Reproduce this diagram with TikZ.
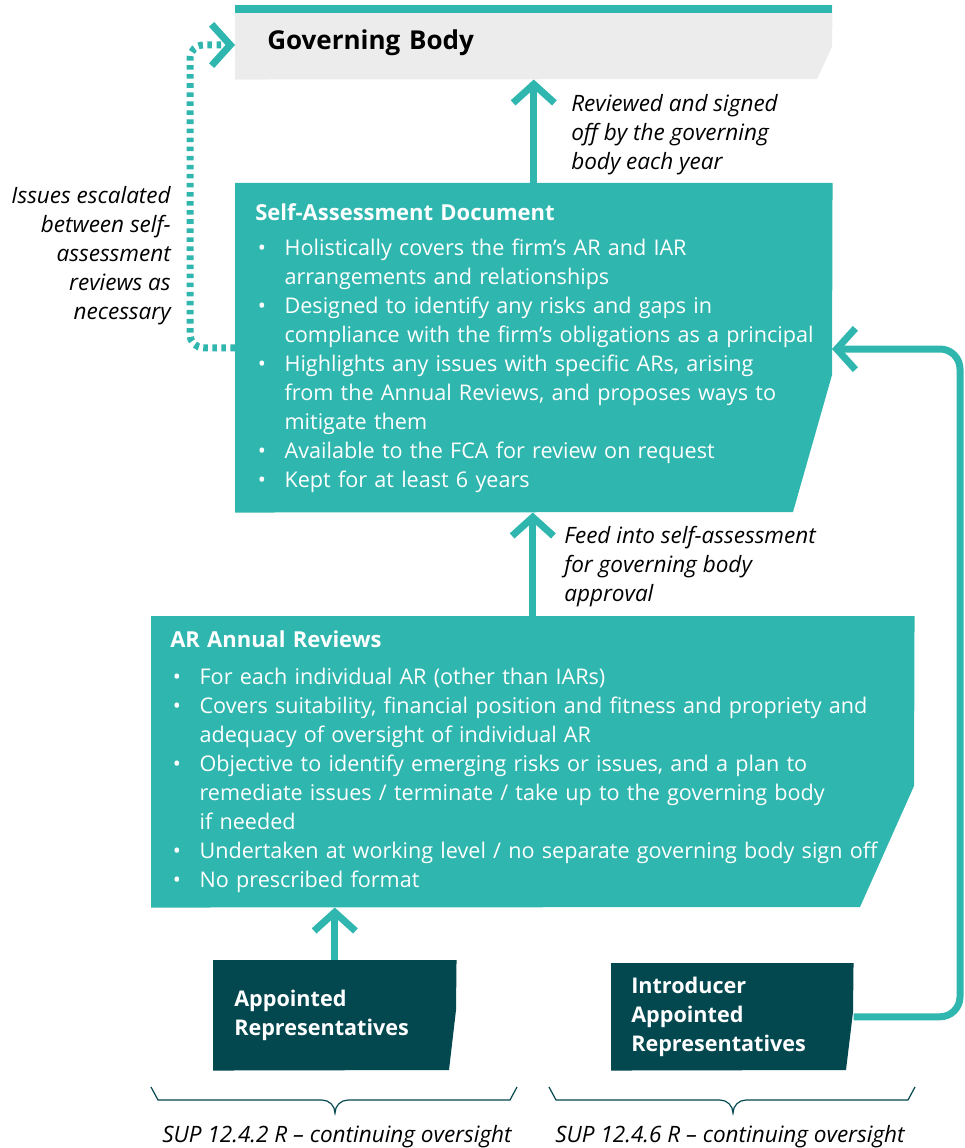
\documentclass[tikz,border=0pt]{standalone}
\usepackage{fontspec}
\setmainfont{Open Sans}
\usetikzlibrary{positioning,backgrounds,arrows.meta}
\definecolor{fcateal}{HTML}{2FB6AE}
\definecolor{fcadark}{HTML}{03474F}
\definecolor{fcagrey}{HTML}{ECECEC}
\newcommand{\bl}[1]{\mbox{\makebox[22pt][l]{\hspace{2pt}\textbullet}#1}}
\newcommand{\cl}[1]{\mbox{\hspace*{22pt}#1}}
\begin{document}
\begin{tikzpicture}[x=0.75pt,y=-0.75pt]
	\def \txtsize{\fontsize{16.2}{21.75}\selectfont}
	\def \annsize{\fontsize{16.9}{21.75}\selectfont}
	\tikzstyle{box}=[anchor=north west,inner ysep=0pt,align=left,text=white,font=\txtsize]
	\tikzstyle{annot}=[inner sep=0pt,font=\annsize\itshape]
	\tikzstyle{link}=[draw=fcateal,line width=5.25pt,-{Straight Barb[length=14pt,width=31pt]}]
	\tikzstyle{brace}=[draw=fcadark,line width=0.9pt]
	\useasboundingbox (0,0) rectangle (964,1148);

	% boxes
	\node[box,text=black,inner xsep=24pt,text width=399.75pt,minimum height=55.5pt,font=\fontsize{19.5}{24}\selectfont\bfseries]
		(gov-body) at (235,5) {Governing Body};
	\node[box,inner xsep=15pt,text width=417.75pt,minimum height=246.75pt] (self-doc) at (235,183)
		{{\fontsize{16.5}{21.75}\selectfont\bfseries Self-Assessment Document}\\[4.5pt]
		\bl{Holistically covers the firm’s AR and IAR}\\
		\cl{arrangements and relationships}\\
		\bl{Designed to identify any risks and gaps in}\\
		\cl{compliance with the firm’s obligations as a principal}\\
		\bl{Highlights any issues with specific ARs, arising}\\
		\cl{from the Annual Reviews, and proposes ways to}\\
		\cl{mitigate them}\\
		\bl{Available to the FCA for review on request}\\
		\bl{Kept for at least 6 years}};
	\node[box,inner xsep=14.25pt,text width=543.75pt,minimum height=218.25pt] (ar-review) at (151,616)
		{{\fontsize{16.5}{21.75}\selectfont\bfseries AR Annual Reviews}\\[6pt]
		\bl{For each individual AR (other than IARs)}\\
		\bl{Covers suitability, financial position and fitness and propriety and}\\
		\cl{adequacy of oversight of individual AR}\\
		\bl{Objective to identify emerging risks or issues, and a plan to}\\
		\cl{remediate issues / terminate / take up to the governing body}\\
		\cl{if needed}\\
		\bl{Undertaken at working level / no separate governing body sign off}\\
		\bl{No prescribed format}};
	\node[box,inner xsep=15.75pt,text width=150.75pt,minimum height=82.5pt,font=\txtsize\bfseries]
		(ar-rep) at (213,960) {Appointed\\Representatives};
	\node[box,inner xsep=15pt,text width=151.5pt,minimum height=80.25pt,font=\txtsize\bfseries]
		(iar-rep) at (611,963) {Introducer\\Appointed\\Representatives};

	% box shapes
	\begin{scope}[on background layer]
		\fill[fcagrey] (gov-body.north west) -- (gov-body.north east) -- (832,47) -- (817,79) -- (gov-body.south west) -- cycle;
		\fill[fcateal] (gov-body.north west) rectangle (832,13);
		\fill[fcateal] (self-doc.north west) -- (self-doc.north east) -- (832,375) -- (793,512) -- (self-doc.south west) -- cycle;
		\fill[fcateal] (ar-review.north west) -- (ar-review.north east) -- (914,786) -- (860,907) -- (ar-review.south west) -- cycle;
		\fill[fcadark] (ar-rep.north west) -- (ar-rep.north east) -- (456,1010) -- (449,1070) -- (ar-rep.south west) -- cycle;
		\fill[fcadark] (iar-rep.north west) -- (iar-rep.north east) -- (853,1012) -- (846,1070) -- (iar-rep.south west) -- cycle;
	\end{scope}

	% labels
	\node[annot,anchor=west,align=left] (signed-off) at (571,135) {Reviewed and signed\\off by the governing\\body each year};
	\node[annot,anchor=west,align=left] (feed-in) at (564,567) {Feed into self-assessment\\for governing body\\approval};
	\node[annot,anchor=east,align=right] (escalated) at (171,256) {Issues escalated\\between self-\\assessment\\reviews as\\necessary};
	\node[annot] (sup-ar) at (337,1137) {SUP 12.4.2 R – continuing oversight};
	\node[annot] (sup-iar) at (730,1137) {SUP 12.4.6 R – continuing oversight};

	% connectors
	\coordinate (loop) at (190,0);
	\coordinate (rail) at (960,0);
	\coordinate (gov-in) at (235,45);
	\coordinate (doc-in) at (832,349);
	\draw[link] (self-doc.north) -- (gov-body.south);
	\draw[link] (ar-review.north) -- (ar-review.north |- self-doc.south);
	\draw[link] (ar-rep.north) -- (ar-rep.north |- ar-review.south);
	\draw[link,rounded corners=15pt] (iar-rep.east) -- (iar-rep.east -| rail) -- (doc-in -| rail) -- (doc-in);
	\draw[link,dash pattern=on 3.4pt off 3.4pt,rounded corners=10pt] (self-doc.west) -- (self-doc.west -| loop) -- (gov-in -| loop) -- (gov-in);

	% braces
	\draw[brace] (151,1087) -- (158,1100) -- (322,1100) to[out=0,in=90] (335,1113) to[out=90,in=180] (348,1100) -- (510,1100) -- (517,1087);
	\draw[brace] (549,1087) -- (556,1100) -- (720,1100) to[out=0,in=90] (733,1113) to[out=90,in=180] (746,1100) -- (908,1100) -- (915,1087);
\end{tikzpicture}
\end{document}
